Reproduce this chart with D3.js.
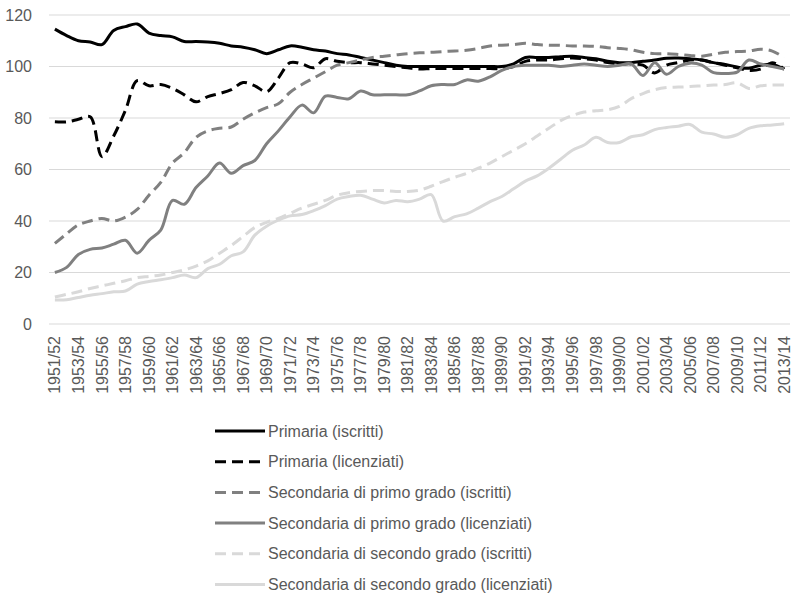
<!DOCTYPE html>
<html>
<head>
<meta charset="utf-8">
<script src="https://cdn.jsdelivr.net/npm/d3@7"></script>
<style>
  html, body { margin: 0; padding: 0; background: #fff; }
  svg { display: block; font-family: "Liberation Sans", Arial, sans-serif; }
</style>
</head>
<body>
<svg id="chart" width="792" height="596"></svg>
<script>
const categories = ["1951/52","1952/53","1953/54","1954/55","1955/56","1956/57","1957/58","1958/59","1959/60","1960/61",
"1961/62","1962/63","1963/64","1964/65","1965/66","1966/67","1967/68","1968/69","1969/70","1970/71",
"1971/72","1972/73","1973/74","1974/75","1975/76","1976/77","1977/78","1978/79","1979/80","1980/81",
"1981/82","1982/83","1983/84","1984/85","1985/86","1986/87","1987/88","1988/89","1989/90","1990/91",
"1991/92","1992/93","1993/94","1994/95","1995/96","1996/97","1997/98","1998/99","1999/00","2000/01",
"2001/02","2002/03","2003/04","2004/05","2005/06","2006/07","2007/08","2008/09","2009/10","2010/11",
"2011/12","2012/13","2013/14"];

const yTicks = [0, 20, 40, 60, 80, 100, 120];

const seriesNames = [
  "Primaria (iscritti)",
  "Primaria (licenziati)",
  "Secondaria di primo grado (iscritti)",
  "Secondaria di primo grado (licenziati)",
  "Secondaria di secondo grado (iscritti)",
  "Secondaria di secondo grado (licenziati)"
];

const primariaIscritti = [114.5,112,110,109.5,108.5,114,115.5,116.5,113,112,
111.5,109.7,109.7,109.5,109,108,107.5,106.5,105,106.5,
108,107.5,106.5,106,105,104.5,103.5,102.5,101.5,100.5,
100,100,100,100,100,100,100,100,100,101,
103.5,103.5,103.5,103.8,104,103.5,103,102,101.5,101.5,
102,102.5,103.2,103.3,103,102.5,101.5,100.8,99.8,99.3,
100.5,100.8,99];

const primariaLicenziati = [78.5,78.5,79.5,80.5,65,73,83,94.5,92.5,93,
91.5,89,86.3,88.3,89.5,91,93.8,92.5,90.2,95.5,
101.5,101,99.5,103,102,101.5,101.5,101,100.5,100,
99.5,99,99.2,99.2,99.2,99.2,99.2,99.2,99.2,100,
102,102.5,102.5,103,103.3,103,102.5,101.5,101,101,
100.5,97.5,100.5,101.5,102.5,102.5,101.5,100.5,99.5,98.5,
99,101.5,99];

const primoGradoIscritti = [31.3,35,38.5,40,41,40,41.5,44.5,50,55,
62.5,66.5,72.5,75,76,76.5,79.5,82,84,85.5,
90,93,95.5,98,100.5,101.5,102.5,103.5,104,104.5,
105,105.3,105.5,105.8,106,106.3,107,108,108.3,108.5,
109,108.5,108.3,108.2,108,108,107.8,107.3,107,106.5,
105.5,105,105,104.7,104.3,104,104.8,105.5,105.8,106,
106.7,106,103.5];

const primoGradoLicenziati = [20,22,27,29,29.5,31,32.5,27.5,32.5,36.5,
48,46.5,53,57.5,62.5,58.5,61.5,63.5,70,75,
80.5,85,82,88.5,88,87.5,90.5,89,89,89,
89,90.5,92.5,93,93,94.8,94.3,96,98.5,100,
100.5,100.5,100.5,100,100.5,101,100.5,100,100.5,101,
96.5,101.5,97,100,101.3,100.5,97.6,97.3,97.8,102.5,
101,100,99];

const secondoGradoIscritti = [10.5,11.5,12.5,13.8,14.8,15.8,16.8,18,18.5,19,
20,21,22.5,24.5,27.5,30.5,34,37.5,39.5,41,
43,45,46.5,48,50,51,51.5,51.8,51.8,51.5,
51.5,52,53.5,55.3,57,58.5,60.5,62.5,65,67.5,
70,73,76,79,81,82.3,82.8,83.2,84.5,87.5,
89.5,91,91.8,92,92.2,92.5,92.8,93,93.7,91.5,
92.5,92.8,92.8];

const secondoGradoLicenziati = [9.3,9.4,10.3,11.2,11.8,12.5,12.8,15.5,16.5,17.2,
18,19,18,21.5,23.2,26.5,28,34.5,38,40.3,
42,42.5,44,46,48.5,49.5,50,48.5,47,48,
47.5,48.5,50.2,40,41.7,42.8,45,47.5,49.5,52.5,
55.5,57.5,60.5,64,67.5,69.5,72.5,70.5,70.5,72.7,
73.5,75.5,76.3,76.8,77.5,74.5,73.8,72.5,73.5,76,
77,77.3,77.8];

const seriesValues = [primariaIscritti, primariaLicenziati, primoGradoIscritti,
  primoGradoLicenziati, secondoGradoIscritti, secondoGradoLicenziati];

const styles = [
  {color: "#000000", dash: null},
  {color: "#000000", dash: "11,6"},
  {color: "#808080", dash: "11,6"},
  {color: "#808080", dash: null},
  {color: "#d9d9d9", dash: "11,6"},
  {color: "#d9d9d9", dash: null}
];

(function () {
const svg = d3.select("#chart");
const mLeft = 49, mRight = 790, mTop = 15, mBottom = 324;

const x = d3.scalePoint().domain(categories).range([mLeft, mRight]).padding(0.5);
const y = d3.scaleLinear().domain([0, 120]).range([mBottom, mTop]);

const textColor = "#595959";

// grid
svg.append("g").selectAll("line").data(yTicks).join("line")
  .attr("x1", mLeft).attr("x2", mRight)
  .attr("y1", d => y(d)).attr("y2", d => y(d))
  .attr("stroke", "#d9d9d9").attr("stroke-width", 1);

// y labels
svg.append("g").selectAll("text").data(yTicks).join("text")
  .attr("x", 32).attr("y", d => y(d)).attr("dy", "0.35em")
  .attr("text-anchor", "end").attr("font-size", 16).attr("fill", textColor)
  .text(d => d);

// x labels
const xLabels = categories.filter((c, i) => i % 2 === 0);
svg.append("g").selectAll("text").data(xLabels).join("text")
  .attr("transform", d => `translate(${x(d)},336) rotate(-90)`)
  .attr("dy", "0.35em")
  .attr("text-anchor", "end").attr("font-size", 16).attr("fill", textColor)
  .text(d => d);

// lines
const line = d3.line()
  .x((d, i) => x(categories[i]))
  .y(d => y(d))
  .curve(d3.curveCatmullRom.alpha(0.5));

seriesValues.forEach((vals, k) => {
  svg.append("path")
    .attr("d", line(vals))
    .attr("fill", "none")
    .attr("stroke", styles[k].color)
    .attr("stroke-width", 3)
    .attr("stroke-linejoin", "round")
    .attr("stroke-dasharray", styles[k].dash);
});

// legend
const lg = svg.append("g");
seriesNames.forEach((name, k) => {
  const ly = 431 + k * 30.7;
  lg.append("line")
    .attr("x1", 215).attr("x2", 265).attr("y1", ly).attr("y2", ly)
    .attr("stroke", styles[k].color).attr("stroke-width", 3)
    .attr("stroke-dasharray", styles[k].dash);
  lg.append("text")
    .attr("x", 268).attr("y", ly).attr("dy", "0.35em")
    .attr("font-size", 16).attr("fill", textColor)
    .text(name);
});
})();
</script>
</body>
</html>
